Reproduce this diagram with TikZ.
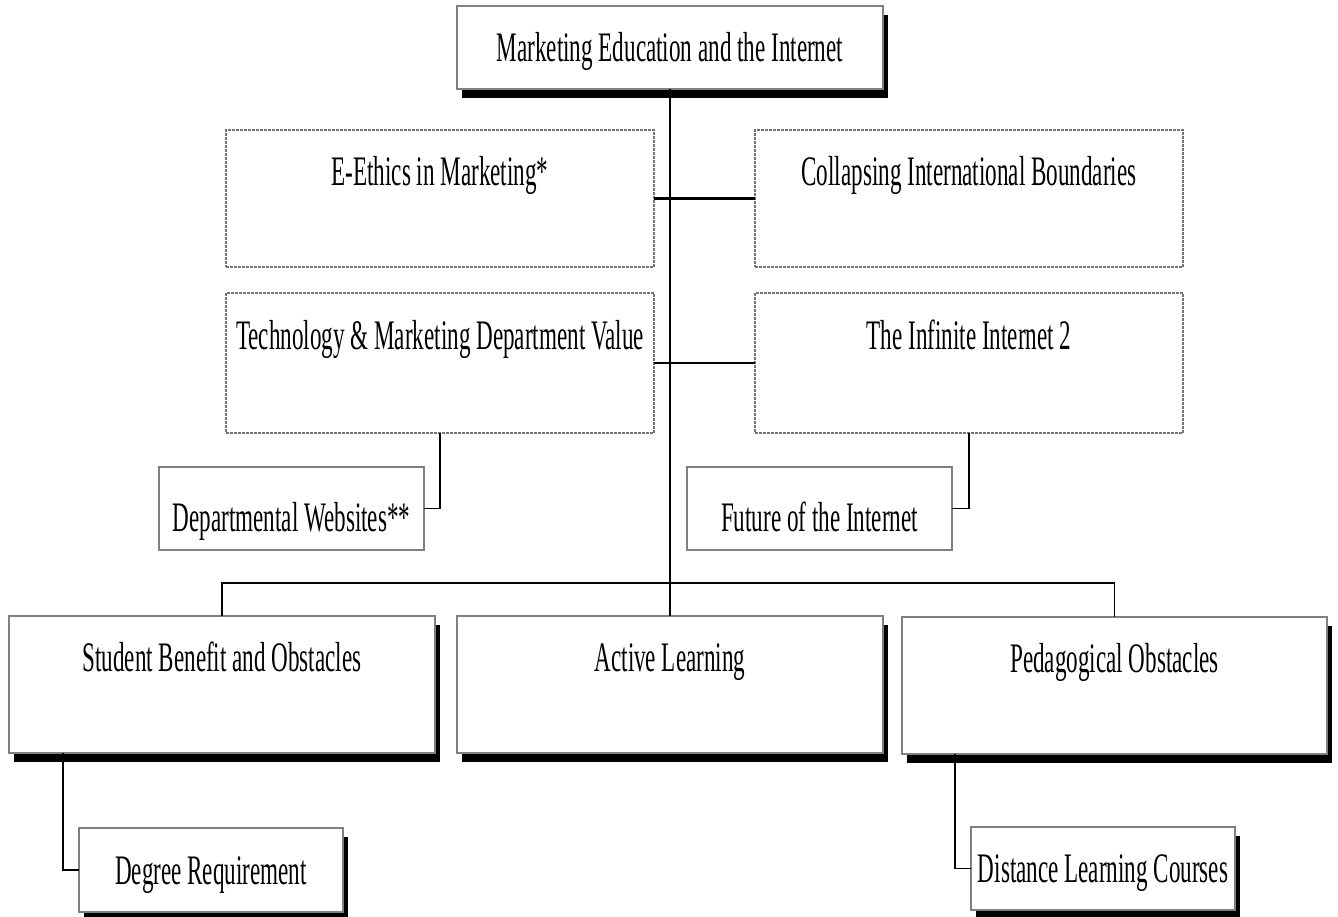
\documentclass[tikz,border=0pt]{standalone}
\usepackage{fontspec}
\setmainfont[FakeStretch=0.55]{Liberation Serif}
\usetikzlibrary{shadows}
\definecolor{boxgray}{rgb}{0.5,0.5,0.5}
\definecolor{dashgray}{rgb}{0.45,0.45,0.45}
\tikzset{
  lbl/.style={font=\fontsize{42}{50}\selectfont, inner sep=0pt, outer sep=0pt, text height=28pt, text depth=0pt, align=center},
  solidbox/.style={lbl, draw=boxgray, line width=1.5pt, fill=white},
  shadowbox/.style={solidbox, drop shadow={shadow xshift=5pt, shadow yshift=-9pt, fill=black, opacity=1}},
  dashbox/.style={lbl, draw=dashgray, line width=1.3pt, dash pattern=on 3pt off 1pt, fill=white},
  tall/.style={text depth=55pt},
  low/.style={text height=46pt},
  conn/.style={draw=black, line width=1.7pt},
  branch/.style={draw=black, line width=2.6pt},
}
\begin{document}
\begin{tikzpicture}[x=1pt, y=-1pt]
\useasboundingbox (0,0) rectangle (1338,916);
% boxes
\node[shadowbox, minimum width=426pt, minimum height=83pt] (top) at (670,47.5) {Marketing Education and the Internet};
\node[dashbox, tall, minimum width=428pt, minimum height=137pt] (ethics) at (440,198.5) {E-Ethics in Marketing*};
\node[dashbox, tall, minimum width=428pt, minimum height=137pt] (collapse) at (969,198.5) {Collapsing International Boundaries};
\node[dashbox, tall, minimum width=428pt, minimum height=140pt] (tech) at (440,363) {Technology \& Marketing Department Value};
\node[dashbox, tall, minimum width=428pt, minimum height=140pt] (infinite) at (969,363) {The Infinite Internet 2};
\node[solidbox, low, minimum width=265pt, minimum height=83pt] (dept) at (291.5,508.5) {Departmental Websites**};
\node[solidbox, low, minimum width=265pt, minimum height=83pt] (future) at (819.5,508.5) {Future of the Internet};
% connectors
\draw[branch] (ethics.east) -- (collapse.west);
\draw[branch] (tech.east) -- (infinite.west);
\draw[conn] (tech.south) |- (dept.east);
\draw[conn] (infinite.south) |- (future.east);
\coordinate (bus) at (670,583);
\node[shadowbox, tall, minimum width=426pt, minimum height=137pt] (student) at (222,684.5) {Student Benefit and Obstacles};
\node[shadowbox, tall, minimum width=426pt, minimum height=137pt] (active) at (670,684.5) {Active Learning};
\node[shadowbox, tall, minimum width=425pt, minimum height=137pt] (peda) at (1114.5,685.5) {Pedagogical Obstacles};
\draw[conn] (student.north) |- (bus) -| (peda.north);
\draw[conn] (top.south) -- (active.north);
\node[shadowbox, minimum width=264pt, minimum height=84pt] (degree) at (211,870) {Degree Requirement};
\node[shadowbox, minimum width=264pt, minimum height=83pt] (distance) at (1103,868.5) {Distance Learning Courses};
\draw[conn] ([xshift=-159pt]student.south) |- (degree.west);
\draw[conn] ([xshift=-159.5pt]peda.south) |- (distance.west);
\end{tikzpicture}
\end{document}
